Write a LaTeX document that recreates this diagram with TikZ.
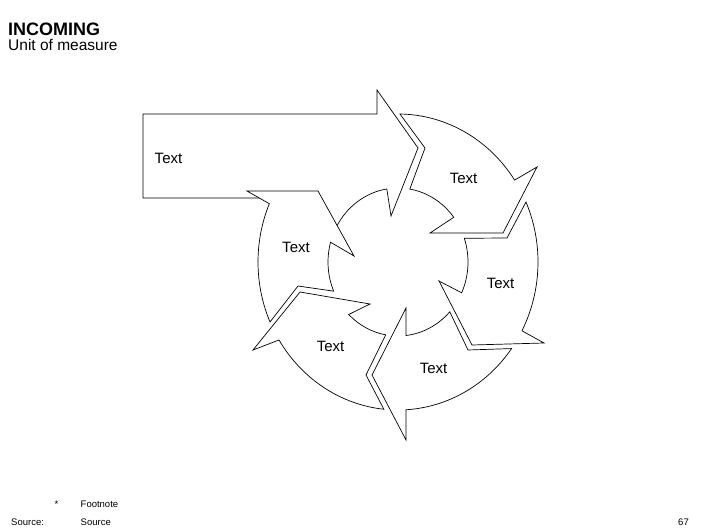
\documentclass[tikz,border=0pt]{standalone}
\usepackage{fontspec}
\setmainfont{Liberation Sans}
\tikzset{
  seg/.style={draw=black, fill=white, line width=0.7pt},
  lbl/.style={inner sep=0pt, font=\fontsize{15}{18}\selectfont},
  note/.style={inner sep=0pt, anchor=base west, font=\fontsize{9.5}{11}\selectfont}
}
\begin{document}
\begin{tikzpicture}[x=1pt, y=-1pt]
  \useasboundingbox (0,0) rectangle (706,529);

  % title
  \node[inner sep=0pt, anchor=base west, font=\bfseries\fontsize{18}{21}\selectfont] (title) at (8,36) {INCOMING};
  \node[inner sep=0pt, anchor=base west, font=\fontsize{15.5}{18}\selectfont] (unit) at (8,51) {Unit of measure};

  % corner points (pixels)
  \coordinate (p1) at (143,114);
  \coordinate (p2) at (377,114);
  \coordinate (p3) at (377,90);
  \coordinate (pt) at (418,148);
  \coordinate (p5) at (391,216);
  \coordinate (p6) at (262,198);
  \coordinate (p7) at (143,198);
  \coordinate (aw1) at (537,167);
  \coordinate (at) at (503,233);
  \coordinate (aw2) at (430,233);
  \coordinate (an) at (425,148);
  \coordinate (bw1) at (544,343);
  \coordinate (bt) at (472,345);
  \coordinate (bw2) at (439,281);
  \coordinate (bn) at (507,238);
  \coordinate (cw1) at (406,440);
  \coordinate (ct) at (372,375);
  \coordinate (cw2) at (406,308);
  \coordinate (cn) at (468,350);
  \coordinate (dw1) at (253,350);
  \coordinate (dt) at (300,292);
  \coordinate (dw2) at (370,304);
  \coordinate (dn) at (366,375);
  \coordinate (ew1) at (247,191);
  \coordinate (et) at (318,191);
  \coordinate (ew2) at (354,256);
  \coordinate (en) at (298,286);

  % ring of arrows, unit circle = outer edge
  \begin{scope}[shift={(398,262)}, x=140pt, y=148pt]
    \draw[seg] (p1) -- (p2) -- (p3) -- (pt) -- (p5) -- (99.2:0.5)
      arc[start angle=99.2, end angle=152, radius=0.5] -- (p6) -- (p7) -- cycle;
    \draw[seg] (89.2:1) arc[start angle=89.2, end angle=33.6, radius=1]
      -- (aw1) -- (at) -- (aw2) -- (37.2:0.5)
      arc[start angle=37.2, end angle=80.3, radius=0.5] -- (an) -- cycle;
    \draw[seg] (23.9:1) arc[start angle=23.9, end angle=-27.7, radius=1]
      -- (bw1) -- (bt) -- (bw2) -- (-24.6:0.5)
      arc[start angle=-24.6, end angle=18.7, radius=0.5] -- (bn) -- cycle;
    \draw[seg] (-35.8:1) arc[start angle=-35.8, end angle=-86.7, radius=1]
      -- (cw1) -- (ct) -- (cw2) -- (-83.4:0.5)
      arc[start angle=-83.4, end angle=-42.3, radius=0.5] -- (cn) -- cycle;
    \draw[seg] (-95.8:1) arc[start angle=-95.8, end angle=-148.2, radius=1]
      -- (dw1) -- (dt) -- (dw2) -- (-134.8:0.5)
      arc[start angle=-134.8, end angle=-100.1, radius=0.5] -- (dn) -- cycle;
    \draw[seg] (203.9:1) arc[start angle=203.9, end angle=156.8, radius=1]
      -- (ew1) -- (et) -- (ew2) -- (164.5:0.5)
      arc[start angle=164.5, end angle=203.2, radius=0.5] -- (en) -- cycle;
  \end{scope}

  % labels
  \node[lbl] (lblP) at (168.5,158.5) {Text};
  \node[lbl] (lblA) at (463.5,178.5) {Text};
  \node[lbl] (lblB) at (500.5,283) {Text};
  \node[lbl] (lblC) at (433.5,368) {Text};
  \node[lbl] (lblD) at (330.5,346) {Text};
  \node[lbl] (lblE) at (296,247.5) {Text};

  % footer
  \node[note] (star) at (54.5,507) {*};
  \node[note] (foot) at (80.5,507) {Footnote};
  \node[note] (srcl) at (11,525.5) {Source:};
  \node[note] (src) at (80.5,525.5) {Source};
  \node[note, anchor=base east] (page) at (689,525.5) {67};
\end{tikzpicture}
\end{document}
